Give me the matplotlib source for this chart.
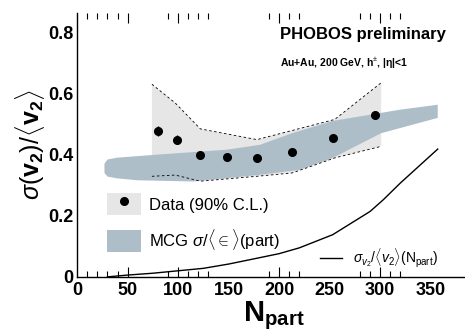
import numpy as np
import matplotlib
matplotlib.use("Agg")
import matplotlib.pyplot as plt
from matplotlib.patches import Patch
from matplotlib.lines import Line2D
from matplotlib.legend_handler import HandlerTuple

plt.rcParams['font.family'] = ['Liberation Sans', 'DejaVu Sans']
plt.rcParams['mathtext.fontset'] = 'custom'
plt.rcParams['mathtext.rm'] = 'Liberation Sans'
plt.rcParams['mathtext.it'] = 'Liberation Sans:italic'
plt.rcParams['mathtext.bf'] = 'Liberation Sans:bold'

# ---- data ----
npart = [80, 99, 122, 148, 178, 213, 253, 295]
ratio = [0.476, 0.449, 0.398, 0.391, 0.388, 0.408, 0.453, 0.530]
ratio_err = [0.016, 0.016, 0.006, 0.005, 0.005, 0.005, 0.006, 0.008]

cl_up_x = [74, 97, 122, 178, 255, 301]
cl_up_y = [0.630, 0.569, 0.484, 0.449, 0.515, 0.635]
cl_lo_x = [74, 97, 122, 178, 213, 255, 301]
cl_lo_y = [0.329, 0.333, 0.313, 0.329, 0.340, 0.389, 0.427]

mcg_up_x = [27, 30, 40, 80, 148, 181, 213, 253, 320, 357]
mcg_up_y = [0.370, 0.384, 0.390, 0.400, 0.416, 0.432, 0.470, 0.510, 0.547, 0.563]
mcg_lo_x = [27, 30, 40, 60, 115, 181, 220, 253, 301, 357]
mcg_lo_y = [0.340, 0.328, 0.322, 0.316, 0.312, 0.334, 0.350, 0.389, 0.470, 0.520]

curve_x = [30, 50, 75, 100, 125, 150, 178, 200, 220, 253, 290, 303, 320, 357]
curve_y = [0.0, 0.006, 0.012, 0.020, 0.028, 0.042, 0.061, 0.076, 0.095, 0.138, 0.214, 0.252, 0.307, 0.418]

xtick_labels = [0, 50, 100, 150, 200, 250, 300, 350]
ytick_labels = [0, 0.2, 0.4, 0.6, 0.8]
short_ticks = [10, 20, 30, 40, 90, 110, 120, 130, 190, 210, 220, 280, 290, 310, 320]
long_ticks = [50, 100, 200, 300]

gray_cl = '#e6e6e6'
mcg_col = '#adbec8'

fig = plt.figure(figsize=(4.65, 3.34), dpi=100)
ax = fig.add_axes([0.166, 0.171, 0.834, 0.79])
ax.set_xlim(0, 384)
ax.set_ylim(0, 0.863)

# CL band
poly_x = np.concatenate([cl_up_x, cl_lo_x[::-1]])
poly_y = np.concatenate([cl_up_y, cl_lo_y[::-1]])
ax.fill(poly_x, poly_y, color=gray_cl, lw=0, zorder=1)
ax.plot(cl_up_x, cl_up_y, color='black', lw=0.6, ls=(0, (3, 3)), zorder=3)
ax.plot(cl_lo_x, cl_lo_y, color='black', lw=0.6, ls=(0, (3, 3)), zorder=3)

# MCG band
mx = np.concatenate([mcg_up_x, mcg_lo_x[::-1]])
my = np.concatenate([mcg_up_y, mcg_lo_y[::-1]])
ax.fill(mx, my, color=mcg_col, lw=0, zorder=2)

# curve
ax.plot(curve_x, curve_y, color='black', lw=1.0, zorder=3)

# data points
ax.errorbar(npart, ratio, yerr=ratio_err, fmt='o', color='black', ms=5.5,
            elinewidth=1.0, capsize=0, zorder=5)

# spines & ticks
ax.spines['top'].set_visible(False)
ax.spines['right'].set_visible(False)
ax.spines['left'].set_linewidth(1.0)
ax.spines['bottom'].set_linewidth(1.0)
ax.set_xticks(xtick_labels)
ax.set_xticklabels([str(v) for v in xtick_labels], fontsize=13, fontweight='bold')
ax.set_yticks(ytick_labels)
ax.set_yticklabels(['0', '0.2', '0.4', '0.6', '0.8'], fontsize=13, fontweight='bold')
ax.tick_params(axis='both', which='major', length=0)
ax.tick_params(axis='x', pad=4)
ax.tick_params(axis='y', pad=3)

xt = ax.get_xaxis_transform()
ax.plot(short_ticks, [0] * len(short_ticks), ls='none', marker=2, ms=4, mew=0.8,
        color='black', transform=xt, clip_on=False)
ax.plot(long_ticks, [0] * len(long_ticks), ls='none', marker=2, ms=7, mew=0.8,
        color='black', transform=xt, clip_on=False)
ax.plot(short_ticks, [1] * len(short_ticks), ls='none', marker=3, ms=4, mew=0.8,
        color='black', transform=xt, clip_on=False)
ax.plot(long_ticks, [1] * len(long_ticks), ls='none', marker=3, ms=7, mew=0.8,
        color='black', transform=xt, clip_on=False)

# legends
h1 = (Patch(facecolor=gray_cl, edgecolor='none'),
      Line2D([], [], ls='none', marker='o', color='black', ms=5.5))
h2 = Patch(facecolor=mcg_col, edgecolor='none')
leg1 = ax.legend([h1, h2], ['Data (90% C.L.)', r'MCG $\sigma/\langle{\in}\rangle$(part)'],
                 handler_map={tuple: HandlerTuple(ndivide=1, pad=0)},
                 loc='upper left', bbox_to_anchor=(107 / 465, 1 - 193 / 334),
                 bbox_transform=fig.transFigure, frameon=False, fontsize=12,
                 borderpad=0, borderaxespad=0, handlelength=2.05, handleheight=1.7,
                 handletextpad=0.45, labelspacing=0.7)
ax.add_artist(leg1)
h3 = Line2D([], [], color='black', lw=1.0)
ax.legend([h3], [r'$\sigma_{v_2}/\langle v_2\rangle(\mathrm{N}_{\mathrm{part}})$'],
          loc='center left', bbox_to_anchor=(320 / 465, 1 - 258 / 334),
          bbox_transform=fig.transFigure, frameon=False, fontsize=10,
          borderpad=0, borderaxespad=0, handlelength=1.6, handletextpad=0.8)

# texts
fig.text(280 / 465, 1 - 35 / 334, 'PHOBOS preliminary', fontsize=12, fontweight='bold',
         ha='left', va='center')
fig.text(280 / 465, 1 - 63 / 334, r'Au+Au, 200 GeV, h$^{\pm}$, |η|<1', fontsize=7.5,
         fontweight='bold', ha='left', va='center')

fig.text(30 / 465, 1 - 145 / 334,
         r'$\sigma(\mathbf{v}_\mathbf{2})/\langle\mathbf{v}_\mathbf{2}\rangle$',
         fontsize=18, rotation=90, ha='center', va='center')
fig.text(274 / 465, 1 - 316 / 334, r'$\mathbf{N}_{\mathbf{part}}$', fontsize=21,
         ha='center', va='center')

fig.savefig('out.png', dpi=100)
